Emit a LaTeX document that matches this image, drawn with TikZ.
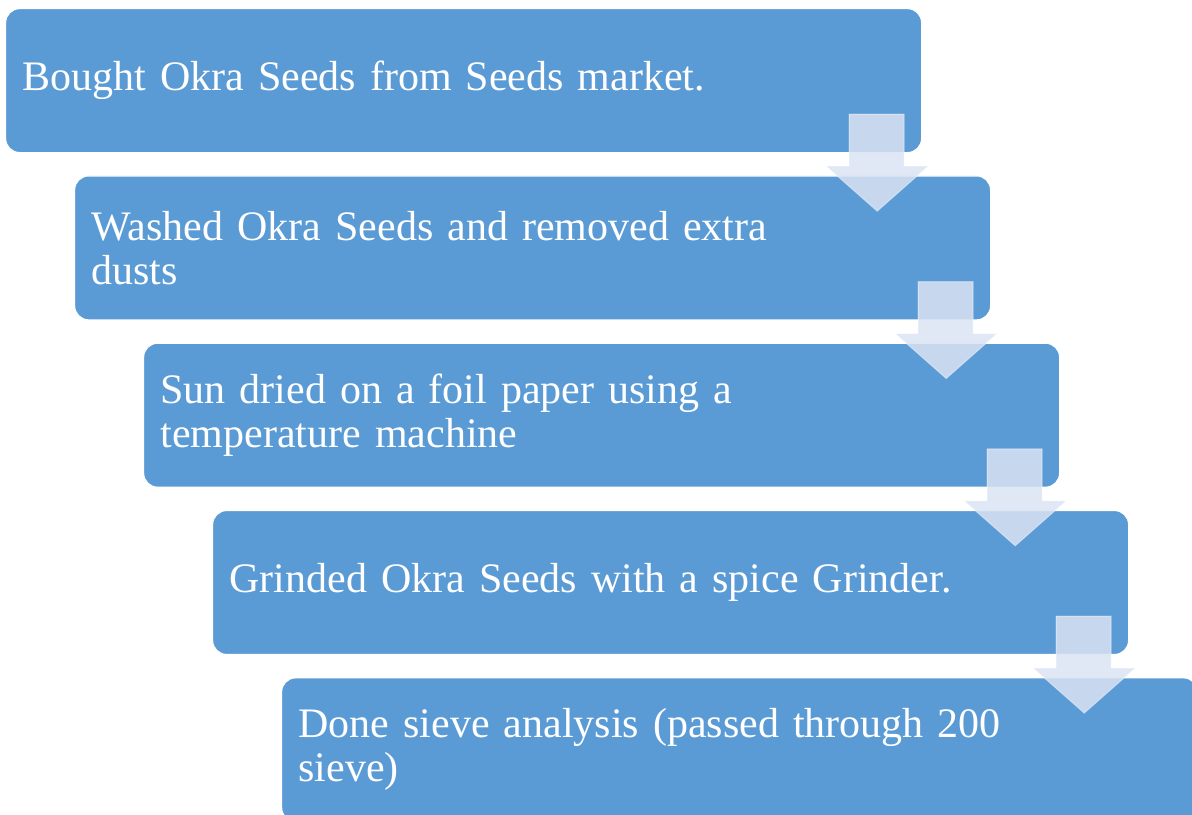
\documentclass[tikz,border=0pt]{standalone}
\usepackage{fontspec}
\setmainfont{Liberation Serif}
\usetikzlibrary{positioning}

\definecolor{boxblue}{HTML}{5B9BD5}
\definecolor{arrowfill}{HTML}{DAE3F3}
\newcommand{\stepfont}{\fontsize{21}{22}\selectfont\spaceskip=0.19em plus 0.05em\relax}

\tikzset{
  stepbox/.style={fill=boxblue, draw=white, line width=0.6pt, rounded corners=7pt,
    minimum width=458pt, minimum height=72pt, text width=441pt, inner xsep=8.5pt,
    align=left, text=white, font=\stepfont, anchor=north west},
  downarrow/.style={fill=arrowfill, fill opacity=0.85, draw=white, draw opacity=0.4, line width=0.5pt}
}

\begin{document}
\begin{tikzpicture}[x=0.5pt,y=-0.5pt]
\useasboundingbox (0,0) rectangle (1192,814);
\clip (0,0) rectangle (1192,814);

% Schritte
\foreach \i/\txt in {1/{Bought Okra Seeds from Seeds market.},
                     2/{Washed Okra Seeds and removed extra\\dusts},
                     3/{Sun dried on a foil paper using a\\temperature machine},
                     4/{Grinded Okra Seeds with a spice Grinder.},
                     5/{Done sieve analysis (passed through 200\\sieve)}}
  \node[stepbox] (s\i) at ({5+69*(\i-1)},{8+167.3*(\i-1)}) {\txt};

% Pfeile
\foreach \i in {1,...,4}
  \draw[downarrow, shift={(s\i.south east)}]
    (-73,-39) -- (-18,-39) -- (-18,13) -- (6,13) -- (-45,58) -- (-96,13) -- (-73,13) -- cycle;
\end{tikzpicture}
\end{document}
